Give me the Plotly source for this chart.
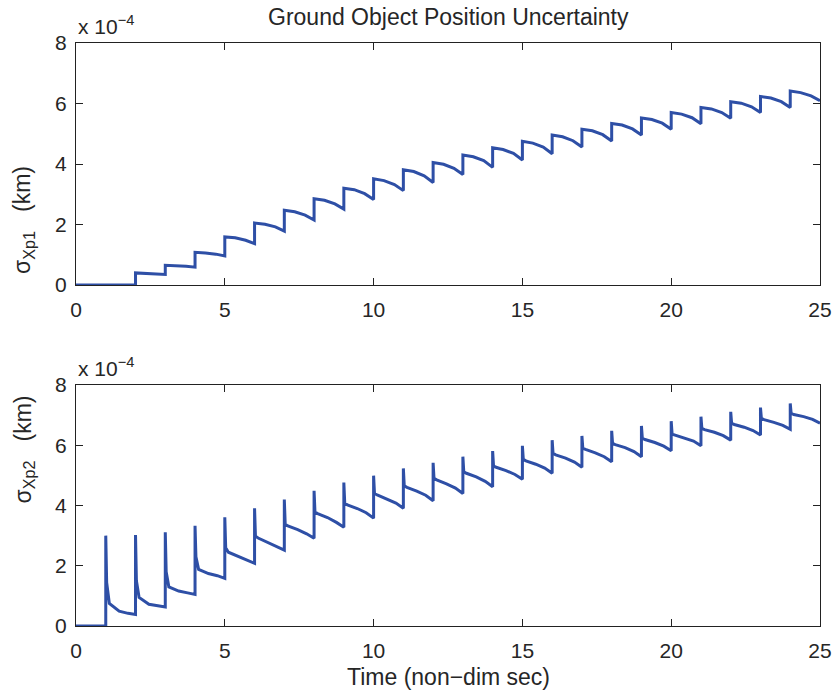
import plotly.graph_objects as go
from plotly.subplots import make_subplots

# ---------------- data (values in units of 1e-4 km) ----------------
# Top panel: sigma_Xp1. Zero until t=2, then a jump at each integer time.
top_jump_times = list(range(2, 25))
top_offsets = [0.0, 0.35, 0.7, 1.0]
top_peak = [0.40, 0.65, 1.08, 1.59, 2.05, 2.47, 2.85, 3.20, 3.51, 3.81, 4.05, 4.30,
            4.54, 4.75, 4.96, 5.15, 5.34, 5.52, 5.70, 5.87, 6.06, 6.23, 6.41]
top_v35 = [0.39, 0.64, 1.06, 1.56, 2.01, 2.42, 2.80, 3.15, 3.45, 3.75, 3.99, 4.24,
           4.48, 4.69, 4.90, 5.10, 5.29, 5.47, 5.65, 5.82, 6.01, 6.18, 6.36]
top_v70 = [0.37, 0.62, 1.02, 1.48, 1.92, 2.31, 2.68, 3.02, 3.32, 3.61, 3.86, 4.11,
           4.35, 4.56, 4.77, 4.97, 5.16, 5.35, 5.53, 5.70, 5.89, 6.06, 6.25]
top_end = [0.35, 0.59, 0.96, 1.37, 1.78, 2.15, 2.51, 2.83, 3.12, 3.39, 3.65, 3.89,
           4.13, 4.34, 4.56, 4.76, 4.96, 5.15, 5.33, 5.51, 5.70, 5.87, 6.09]

# Bottom panel: sigma_Xp2. Zero until t=1, then a spike at each integer time.
bot_jump_times = list(range(1, 25))
bot_offsets = [0.0, 0.03, 0.12, 0.45, 0.75, 1.0]
bot_spike = [3.00, 3.02, 3.11, 3.33, 3.61, 3.91, 4.20, 4.49, 4.76, 4.99, 5.23, 5.42,
             5.62, 5.81, 5.98, 6.17, 6.31, 6.48, 6.64, 6.80, 6.95, 7.11, 7.25, 7.39]
bot_v03 = [1.45, 1.50, 1.80, 2.30, 2.60, 2.98, 3.38, 3.78, 4.08, 4.40, 4.65, 4.90,
           5.12, 5.31, 5.53, 5.73, 5.90, 6.06, 6.23, 6.37, 6.56, 6.73, 6.89, 7.06]
bot_v12 = [0.75, 0.95, 1.30, 1.88, 2.45, 2.92, 3.32, 3.73, 4.02, 4.35, 4.60, 4.85,
           5.07, 5.27, 5.48, 5.68, 5.86, 6.02, 6.19, 6.34, 6.52, 6.69, 6.85, 7.02]
bot_v45 = [0.49, 0.72, 1.16, 1.74, 2.32, 2.78, 3.20, 3.60, 3.90, 4.22, 4.48, 4.72,
           4.95, 5.16, 5.37, 5.57, 5.75, 5.92, 6.09, 6.25, 6.43, 6.60, 6.76, 6.95]
bot_v75 = [0.42, 0.67, 1.10, 1.67, 2.20, 2.64, 3.06, 3.44, 3.76, 4.08, 4.34, 4.58,
           4.80, 5.03, 5.24, 5.44, 5.62, 5.79, 5.97, 6.14, 6.32, 6.49, 6.66, 6.86]
bot_end = [0.38, 0.63, 1.05, 1.58, 2.08, 2.52, 2.91, 3.28, 3.58, 3.91, 4.16, 4.40,
           4.62, 4.87, 5.07, 5.27, 5.45, 5.62, 5.82, 5.98, 6.17, 6.34, 6.53, 6.73]

x_ticks = [0, 5, 10, 15, 20, 25]
y_ticks = [0, 2, 4, 6, 8]

title_text = "Ground Object Position Uncertainty"
xlabel_text = "Time (non\u2212dim sec)"
ylabel_top = "\u03c3<sub>Xp1</sub>\u00a0\u00a0\u00a0(km)"
ylabel_bot = "\u03c3<sub>Xp2</sub>\u00a0\u00a0\u00a0(km)"
exp_text = "x 10<sup>\u22124</sup>"

# ---------------- build traces ----------------
tx, ty = [0, top_jump_times[0]], [0, 0]
top_rows = list(zip(top_peak, top_v35, top_v70, top_end))
for k, row in zip(top_jump_times, top_rows):
    for off, v in zip(top_offsets, row):
        tx.append(k + off)
        ty.append(v)

bx, by = [0, bot_jump_times[0]], [0, 0]
bot_rows = list(zip(bot_spike, bot_v03, bot_v12, bot_v45, bot_v75, bot_end))
for k, row in zip(bot_jump_times, bot_rows):
    for off, v in zip(bot_offsets, row):
        bx.append(k + off)
        by.append(v)

# body margin is removed by post_script, so the figure sits at (0, 0)
W, H = 835, 694
ml, mt = 76, 43
mr = W - 820
mb = H - 626
ph = H - mt - mb
top_dom = [(H - mb - 285) / ph, 1.0]
bot_dom = [0.0, (H - mb - 385) / ph]

fig = make_subplots(rows=2, cols=1)
line_col = "#2E4FA6"
fig.add_trace(go.Scatter(x=tx, y=ty, mode="lines", line=dict(color=line_col, width=3),
                         showlegend=False), row=1, col=1)
fig.add_trace(go.Scatter(x=bx, y=by, mode="lines", line=dict(color=line_col, width=3),
                         showlegend=False), row=2, col=1)

font = "Liberation Sans, Arial, Helvetica, sans-serif"
txt_col = "#262626"
axis_common = dict(showline=True, linecolor="#222", linewidth=1, mirror="ticks",
                   ticks="inside", ticklen=7, tickcolor="#222", showgrid=False,
                   zeroline=False, automargin=False,
                   tickfont=dict(size=21, color=txt_col, family=font))

fig.update_xaxes(range=[0, 25], tickvals=x_ticks, ticklabelstandoff=6, **axis_common)
fig.update_yaxes(range=[0, 8], tickvals=y_ticks, ticklabelstandoff=4, **axis_common)
fig.update_yaxes(domain=top_dom, row=1, col=1)
fig.update_yaxes(domain=bot_dom, row=2, col=1)

lab = dict(size=23, color=txt_col, family=font)
ann = [
    dict(text=title_text, x=0.5, y=1.0, xref="paper", yref="paper", yanchor="bottom",
         yshift=11, showarrow=False, font=lab),
    dict(text=exp_text, x=0.0, y=1.0, xref="paper", yref="paper", xanchor="left",
         yanchor="bottom", yshift=3, showarrow=False,
         font=dict(size=21, color=txt_col, family=font)),
    dict(text=exp_text, x=0.0, y=bot_dom[1], xref="paper", yref="paper", xanchor="left",
         yanchor="bottom", yshift=3, showarrow=False,
         font=dict(size=21, color=txt_col, family=font)),
    dict(text=xlabel_text, x=0.5, y=0.0, xref="paper", yref="paper", yanchor="top",
         yshift=-36, showarrow=False, font=lab),
    dict(text=ylabel_top, x=0.0, y=(top_dom[0] + top_dom[1]) / 2, xref="paper", yref="paper",
         xanchor="center", xshift=-52, textangle=-90, showarrow=False, font=lab),
    dict(text=ylabel_bot, x=0.0, y=(bot_dom[0] + bot_dom[1]) / 2, xref="paper", yref="paper",
         xanchor="center", xshift=-52, textangle=-90, showarrow=False, font=lab),
]

fig.update_layout(width=W, height=H, margin=dict(l=ml, r=mr, t=mt, b=mb),
                  paper_bgcolor="white", plot_bgcolor="white",
                  font=dict(family=font, size=21, color=txt_col),
                  annotations=ann, showlegend=False, hovermode=False)

fig.write_html("out.html",
               config={"displayModeBar": False, "staticPlot": True},
               post_script="document.body.style.margin='0';"
                           "document.body.style.overflow='hidden';")
